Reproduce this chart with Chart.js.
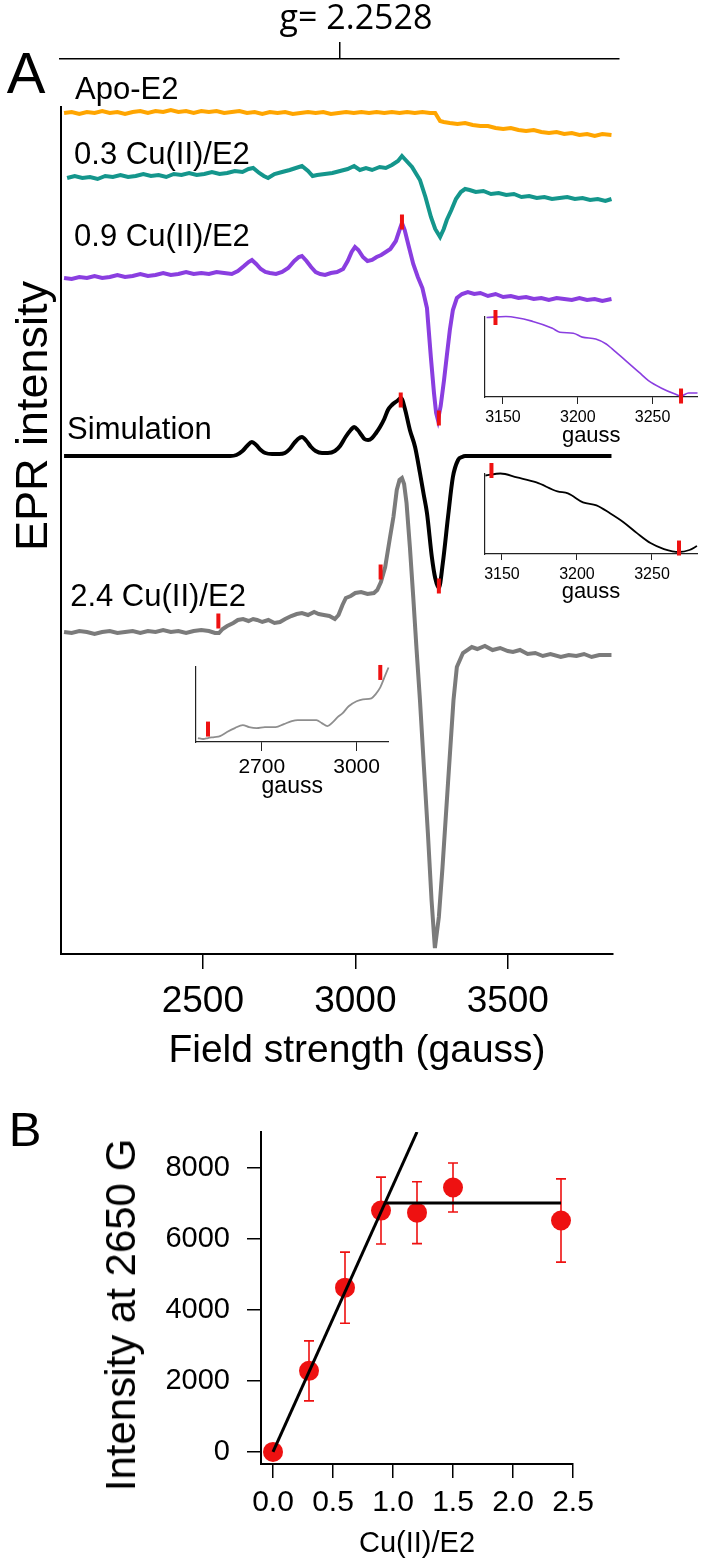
<!DOCTYPE html>
<html lang="en">
<head>
<meta charset="utf-8">
<title>EPR Cu(II)/E2</title>
<script src="https://cdn.jsdelivr.net/npm/chart.js@4.4.1/dist/chart.umd.min.js"></script>
<style>
  body { margin: 0; background: #fff; }
  #lienzo { position: relative; width: 709px; height: 1567px; overflow: hidden; font-family: "Liberation Sans", Arial, sans-serif; color: #000; }
  #lienzo canvas { position: absolute; }
  .texto { position: absolute; transform: translate(-50%, -50%); white-space: nowrap; line-height: 1; }
  .vertical { transform: translate(-50%, -50%) rotate(-90deg); }
</style>
</head>
<body>
<div id="lienzo">
  <canvas id="ejeG" width="709" height="64" style="left:0;top:0"></canvas>
  <canvas id="espectros" width="709" height="1016" style="left:0;top:64px"></canvas>
  <canvas id="insetPurpura" width="239" height="145" style="left:470px;top:305px"></canvas>
  <canvas id="insetSim" width="239" height="143" style="left:470px;top:462px"></canvas>
  <canvas id="insetGris" width="220" height="145" style="left:180px;top:655px"></canvas>
  <canvas id="titulacion" width="709" height="487" style="left:0;top:1080px"></canvas>
  <div class="texto" style="left:26px;top:73px;font-size:58px">A</div>
  <div class="texto vertical" style="left:31px;top:416px;font-size:45px">EPR intensity</div>
  <div class="texto" style="left:357px;top:1048px;font-size:39px">Field strength (gauss)</div>
  <div class="texto" style="left:25px;top:1129px;font-size:49px">B</div>
  <div class="texto vertical" style="left:121px;top:1315px;font-size:42px">Intensity at 2650 G</div>
</div>
<script>
// ---- datos panel A (campo en gauss, señal en unidades arbitrarias) ----
const apoCampo = [2045,2070,2095,2120,2145,2170,2195,2220,2245,2270,2295,2320,2345,2370,2395,2420,2445,2470,2495,2520,2545,2570,2595,2620,2645,2670,2695,2720,2745,2770,2795,2820,2845,2870,2895,2920,2945,2970,2995,3020,3045,3070,3095,3120,3145,3170,3195,3220,3245,3262,3270,3278,3290,3310,3335,3360,3385,3410,3435,3460,3485,3510,3535,3560,3585,3610,3635,3660,3685,3710,3735,3760,3785,3810,3840]
const apoSenal = [0,1,-1,1,0,2,0,1,-1,1,2,0,2,1,3,1,2,0,2,1,2,0,1,2,0,1,-1,1,0,1,-1,0,1,0,1,-1,0,1,0,1,0,1,0,1,0,1,0,1,0,0,-4,-8,-9,-10,-11,-10,-12,-13,-13,-15,-16,-15,-17,-18,-17,-19,-20,-19,-21,-20,-22,-21,-23,-21,-22]

const tealCampo = [2055,2080,2105,2130,2155,2180,2205,2230,2255,2280,2305,2330,2355,2380,2405,2430,2455,2480,2505,2530,2555,2580,2605,2630,2650,2665,2685,2700,2714,2735,2760,2785,2805,2825,2845,2860,2875,2900,2925,2950,2975,2996,3015,3035,3055,3080,3100,3120,3140,3153,3165,3186,3200,3212,3230,3248,3262,3278,3290,3300,3315,3330,3346,3360,3375,3395,3420,3445,3470,3495,3520,3545,3570,3595,3620,3645,3670,3695,3720,3745,3770,3795,3820,3840]
const tealSenal = [-1,1,-1,0,-2,1,0,2,0,1,3,1,2,0,3,2,4,2,3,5,3,4,6,5,8,9,4,1,-1,3,5,7,9,11,6,1,2,3,4,6,8,11,7,9,7,10,9,12,16,21,17,10,3,-3,-20,-40,-52,-60,-52,-43,-33,-22,-15,-12,-13,-15,-14,-17,-16,-18,-17,-20,-19,-21,-20,-22,-21,-20,-22,-21,-23,-22,-24,-22]

const purpuraCampo = [2045,2070,2095,2120,2145,2170,2195,2220,2245,2270,2295,2320,2345,2370,2395,2420,2445,2470,2495,2520,2545,2570,2595,2615,2635,2650,2661,2675,2690,2705,2720,2740,2760,2780,2800,2815,2825,2840,2855,2870,2885,2901,2920,2940,2960,2975,2988,2999,3010,3025,3040,3055,3070,3085,3100,3115,3133,3145,3153,3162,3175,3190,3205,3220,3235,3248,3258,3265,3271,3280,3291,3300,3310,3320,3333,3350,3369,3390,3410,3435,3460,3485,3510,3535,3560,3585,3610,3635,3660,3685,3710,3735,3760,3785,3810,3840]
const purpuraSenal = [0,-1,1,0,2,0,1,3,1,2,4,2,3,5,3,4,6,4,5,4,6,5,4,7,12,16,18,14,9,6,5,4,6,10,17,21,22,17,11,6,4,3,5,6,9,17,26,31,28,21,17,18,21,23,26,29,37,48,55,48,32,14,1,-10,-30,-80,-115,-135,-142,-128,-102,-78,-52,-32,-20,-16,-14,-16,-15,-18,-16,-19,-18,-20,-19,-21,-20,-22,-20,-21,-22,-20,-22,-21,-23,-21]

const simCampo = [2045,2590,2610,2630,2645,2661,2675,2690,2705,2727,2750,2769,2785,2800,2812,2825,2840,2855,2870,2891,2910,2933,2950,2968,2985,2996,3008,3020,3030,3042,3055,3068,3081,3095,3107,3120,3137,3150,3162,3179,3196,3212,3224,3235,3251,3262,3274,3287,3304,3320,3337,3350,3360,3840]
const simSenal = [0,0,1,5,10,14,11,6,3,2,2,3,7,13,17,19,15,9,5,3,3,5,10,19,26,29,26,21,17,16,18,23,29,37,46,51,55,58,48,26,9,-17,-38,-57,-101,-122,-132,-107,-61,-21,-4,-1,0,0]

const grisCampo = [2045,2070,2095,2120,2145,2170,2195,2220,2245,2270,2295,2320,2345,2370,2395,2420,2445,2470,2495,2520,2540,2553,2565,2580,2600,2615,2632,2650,2665,2678,2695,2715,2735,2753,2770,2790,2808,2825,2845,2865,2880,2897,2915,2933,2945,2958,2969,2985,3000,3019,3040,3061,3072,3084,3098,3114,3125,3136,3145,3153,3160,3168,3179,3190,3201,3212,3225,3238,3250,3261,3274,3286,3304,3322,3333,3353,3382,3400,3425,3450,3475,3500,3517,3540,3565,3590,3615,3640,3674,3700,3725,3750,3775,3800,3840]
const grisSenal = [0,-1,1,0,-2,0,1,-1,0,1,-1,1,0,2,0,1,-1,1,2,1,-1,-1,3,6,9,12,13,11,13,12,10,12,9,10,13,16,18,19,17,20,18,17,16,13,17,27,34,36,39,40,38,39,42,50,65,95,115,142,152,154,148,129,85,35,-18,-68,-135,-201,-268,-316,-285,-235,-151,-68,-35,-21,-15,-17,-14,-18,-16,-19,-20,-18,-22,-21,-24,-22,-25,-23,-24,-22,-25,-23,-23]

// desplazamiento vertical de cada espectro (apilados)
const desplazamiento = [841, 777, 676, 498, 322]
const nombres = ['Apo-E2', '0.3 Cu(II)/E2', '0.9 Cu(II)/E2', 'Simulation', '2.4 Cu(II)/E2']
const nombreCampo = [2081, 2078, 2078, 2055, 2065]
const nombreNivel = [864, 799, 717, 524, 357]

// marcas rojas sobre los espectros
const marcaCampo = [3153, 3274, 3149, 3274, 2551, 3083]
const marcaNivel = [732, 536, 554, 368, 333, 382]

const ticksCampo = [2500, 3000, 3500]
const campoG = 2950
const etiquetaG = 'g= 2.2528'

// insets (zoom de cada espectro)
const insetPurpuraCampo = [3139,3152,3170,3183,3188,3197,3203,3212,3219,3223,3232,3241,3247,3256,3265,3269,3274,3280]
const insetPurpuraSenal = [81,82,77,70,66,65,61,59,54,49,37,25,17,9,3,1,4,4]
const insetSimCampo = [3139,3149,3160,3173,3187,3194,3204,3213,3222,3231,3240,3249,3258,3268,3275,3280]
const insetSimSenal = [79,81,77,72,63,61,52,49,41,32,21,11,5,2,4,8]
const insetGrisCampo = [2498,2515,2530,2550,2568,2590,2615,2640,2660,2684,2710,2744,2770,2795,2814,2840,2873,2890,2908,2925,2940,2956,2975,3000,3020,3047,3060,3075,3088,3101]
const insetGrisSenal = [4,3,4,5,6,10,14,17,15,14,15,15,18,21,22,22,22,19,16,20,25,29,36,41,43,44,48,55,65,75]
const ticksInsetAlto = [3150, 3200, 3250]
const ticksInsetBajo = [2700, 3000]

// ---- datos panel B ----
const ratioCu = [0, 0.3, 0.6, 0.9, 1.2, 1.5, 2.4]
const intensidad = [0, 2280, 4620, 6790, 6730, 7440, 6510]
const errorInt = [0, 845, 1000, 940, 870, 690, 1170]
const ajusteX = [0, 1.2]
const ajusteY = [0, 9000]
const mesetaX = [0.933, 2.4]
const mesetaY = [7000, 7000]
const ticksRatio = [0, 0.5, 1, 1.5, 2, 2.5]
const ticksIntensidad = [0, 2000, 4000, 6000, 8000]

const colores = ['#ffa500', '#14968c', '#8a3ee0', '#000000', '#7b7b7b']
const rojo = '#ee1111'

Chart.defaults.font.family = '"Liberation Sans", Arial, sans-serif'
Chart.defaults.color = '#000'
Chart.defaults.animation = false
Chart.defaults.events = []
Chart.defaults.plugins.legend.display = false
Chart.defaults.plugins.tooltip.enabled = false

const puntos = (xs, ys, base = 0) => xs.map((x, i) => ({x: x, y: base + ys[i]}))

//plugin para escribir el nombre de cada espectro
const nombresPlugin = {
    id: 'nombres',
    afterDatasetsDraw(chart) {
        const {ctx, scales: {x, y}} = chart
        ctx.save()
        ctx.font = '31px "Liberation Sans", Arial, sans-serif'
        ctx.fillStyle = '#000'
        ctx.textBaseline = 'middle'
        nombres.forEach((t, i) => ctx.fillText(t, x.getPixelForValue(nombreCampo[i]), y.getPixelForValue(nombreNivel[i])))
        ctx.restore()
    }
}

//plugin para las barras de error del panel B
const barrasError = {
    id: 'barrasError',
    beforeDatasetsDraw(chart) {
        const {ctx, scales: {x, y}} = chart
        ctx.save()
        ctx.strokeStyle = rojo
        ctx.lineWidth = 1.6
        ratioCu.forEach((r, i) => {
            if (!errorInt[i]) return
            const px = x.getPixelForValue(r)
            const arriba = y.getPixelForValue(intensidad[i] + errorInt[i])
            const abajo = y.getPixelForValue(intensidad[i] - errorInt[i])
            ctx.beginPath()
            ctx.moveTo(px, arriba); ctx.lineTo(px, abajo)
            ctx.moveTo(px - 5, arriba); ctx.lineTo(px + 5, arriba)
            ctx.moveTo(px - 5, abajo); ctx.lineTo(px + 5, abajo)
            ctx.stroke()
        })
        ctx.restore()
    }
}

const marcasRojas = (xs, ys) => ({
    data: puntos(xs, ys), showLine: false, pointStyle: 'line', pointRotation: 90,
    pointRadius: 7.5, pointBorderWidth: 4, pointBorderColor: rojo, clip: false
})

// eje superior con el valor g
new Chart(document.getElementById('ejeG'), {
    type: 'line',
    data: {datasets: []},
    options: {
        responsive: false,
        layout: {padding: {left: 60, right: 90, top: 0, bottom: 0}},
        scales: {
            x: {
                type: 'linear', position: 'top', min: 2032, max: 3865,
                afterBuildTicks: s => { s.ticks = [{value: campoG}] },
                afterFit: s => { s.height = 59 },
                grid: {drawOnChartArea: false, tickLength: 17, color: '#000', lineWidth: 1.5},
                border: {color: '#000', width: 1.5},
                ticks: {padding: 2, labelOffset: 16, font: {family: '"Open Sans", sans-serif', size: 34}, color: '#000', callback: () => etiquetaG}
            },
            y: {display: false}
        }
    }
})

// espectros EPR apilados
const trazas = [
    [apoCampo, apoSenal], [tealCampo, tealSenal], [purpuraCampo, purpuraSenal], [simCampo, simSenal], [grisCampo, grisSenal]
].map((t, i) => ({
    data: puntos(t[0], t[1], desplazamiento[i]),
    borderColor: colores[i], borderWidth: 4, pointRadius: 0, clip: false,
    cubicInterpolationMode: i === 3 ? 'monotone' : 'default', tension: 0
}))
// la simulacion va encima del gris
const ordenTrazas = [trazas[3], trazas[2], trazas[1], trazas[0], trazas[4]]

new Chart(document.getElementById('espectros'), {
    type: 'line',
    data: {datasets: [marcasRojas(marcaCampo, marcaNivel), ...ordenTrazas]},
    options: {
        responsive: false,
        layout: {padding: {top: 43, right: 96, left: 0, bottom: 0}},
        scales: {
            x: {
                type: 'linear', min: 2035, max: 3845,
                afterBuildTicks: s => { s.ticks = ticksCampo.map(v => ({value: v})) },
                afterFit: s => { s.height = 126 },
                grid: {drawOnChartArea: false, tickLength: 15, color: '#000', lineWidth: 1.5},
                border: {color: '#000', width: 2},
                ticks: {padding: 11, font: {size: 37}, color: '#000', callback: v => String(v)}
            },
            y: {
                min: 0, max: 847,
                afterFit: s => { s.width = 61 },
                grid: {display: false}, ticks: {display: false},
                border: {color: '#000', width: 2}
            }
        }
    },
    plugins: [nombresPlugin]
})

//funcion para crear cada inset
function crearInset(id, c) {
    return new Chart(document.getElementById(id), {
        type: 'line',
        data: {datasets: [
            marcasRojas(c.marcaCampo, c.marcaNivel),
            {data: puntos(c.campo, c.senal), borderColor: c.color, borderWidth: c.grosor, pointRadius: 0, cubicInterpolationMode: 'monotone', clip: false}
        ]},
        options: {
            responsive: false,
            layout: {padding: c.padding},
            scales: {
                x: {
                    type: 'linear', min: c.min, max: c.max,
                    afterBuildTicks: s => { s.ticks = c.ticks.map(v => ({value: v})) },
                    afterFit: s => { s.height = c.altoEje },
                    grid: {drawOnChartArea: false, tickLength: c.largoTick, color: '#222', lineWidth: 1},
                    border: {color: '#222', width: 1.2},
                    ticks: {padding: c.padTick, font: {size: c.fuenteTick}, color: '#000', callback: v => String(v)},
                    title: {display: true, text: 'gauss', font: {size: c.fuenteTitulo}, color: '#000', padding: {top: 0, bottom: c.padTitulo}}
                },
                y: {
                    min: 0, max: c.maxY,
                    afterFit: s => { s.width = c.anchoEje },
                    grid: {display: false}, ticks: {display: false},
                    border: {color: '#222', width: 1.2}
                }
            }
        }
    })
}

crearInset('insetPurpura', {
    campo: insetPurpuraCampo, senal: insetPurpuraSenal, color: colores[2], grosor: 1.6,
    marcaCampo: [3145, 3269], marcaNivel: [81, 1],
    min: 3138, max: 3280, maxY: 82, ticks: ticksInsetAlto,
    padding: {top: 10, right: 9, left: 0, bottom: 0}, anchoEje: 15, altoEje: 53,
    largoTick: 7, padTick: 4, fuenteTick: 16, fuenteTitulo: 22, padTitulo: 1
})
crearInset('insetSim', {
    campo: insetSimCampo, senal: insetSimSenal, color: colores[3], grosor: 1.8,
    marcaCampo: [3143, 3268], marcaNivel: [84, 6],
    min: 3138.7, max: 3280, maxY: 81, ticks: ticksInsetAlto,
    padding: {top: 11, right: 12, left: 0, bottom: 0}, anchoEje: 15, altoEje: 51,
    largoTick: 6, padTick: 5, fuenteTick: 16, fuenteTitulo: 22, padTitulo: 0
})
crearInset('insetGris', {
    campo: insetGrisCampo, senal: insetGrisSenal, color: '#8e8e8e', grosor: 1.8,
    marcaCampo: [2530, 3075], marcaNivel: [13, 70],
    min: 2492, max: 3101, maxY: 76, ticks: ticksInsetBajo,
    padding: {top: 11, right: 11, left: 0, bottom: 0}, anchoEje: 16, altoEje: 58,
    largoTick: 9, padTick: 4, fuenteTick: 21, fuenteTitulo: 23, padTitulo: 0
})

// panel B: intensidad a 2650 G vs Cu(II)/E2
new Chart(document.getElementById('titulacion'), {
    type: 'line',
    data: {datasets: [
        {data: puntos(ajusteX, ajusteY), borderColor: '#000', borderWidth: 3, pointRadius: 0},
        {data: puntos(mesetaX, mesetaY), borderColor: '#000', borderWidth: 3, pointRadius: 0},
        {data: puntos(ratioCu, intensidad), showLine: false, pointRadius: 10, pointBackgroundColor: rojo, pointBorderWidth: 0, clip: false}
    ]},
    options: {
        responsive: false,
        layout: {padding: {top: 52, right: 136, left: 0, bottom: 0}},
        scales: {
            x: {
                type: 'linear', min: -0.1, max: 2.5,
                afterBuildTicks: s => { s.ticks = ticksRatio.map(v => ({value: v})) },
                afterFit: s => { s.height = 103 },
                grid: {drawOnChartArea: false, tickLength: 14, color: '#000', lineWidth: 1.5},
                border: {color: '#000', width: 2},
                ticks: {padding: 7, font: {size: 30}, color: '#000', callback: v => v.toFixed(1)},
                title: {display: true, text: 'Cu(II)/E2', font: {size: 29}, color: '#000', padding: {top: 0, bottom: 6}}
            },
            y: {
                min: -340, max: 9000,
                afterBuildTicks: s => { s.ticks = ticksIntensidad.map(v => ({value: v})) },
                afterFit: s => { s.width = 261 },
                grid: {drawOnChartArea: false, tickLength: 14, color: '#000', lineWidth: 1.5},
                border: {color: '#000', width: 2},
                ticks: {padding: 17, font: {size: 29}, color: '#000', callback: v => String(v)}
            }
        }
    },
    plugins: [barrasError]
})
</script>
</body>
</html>
